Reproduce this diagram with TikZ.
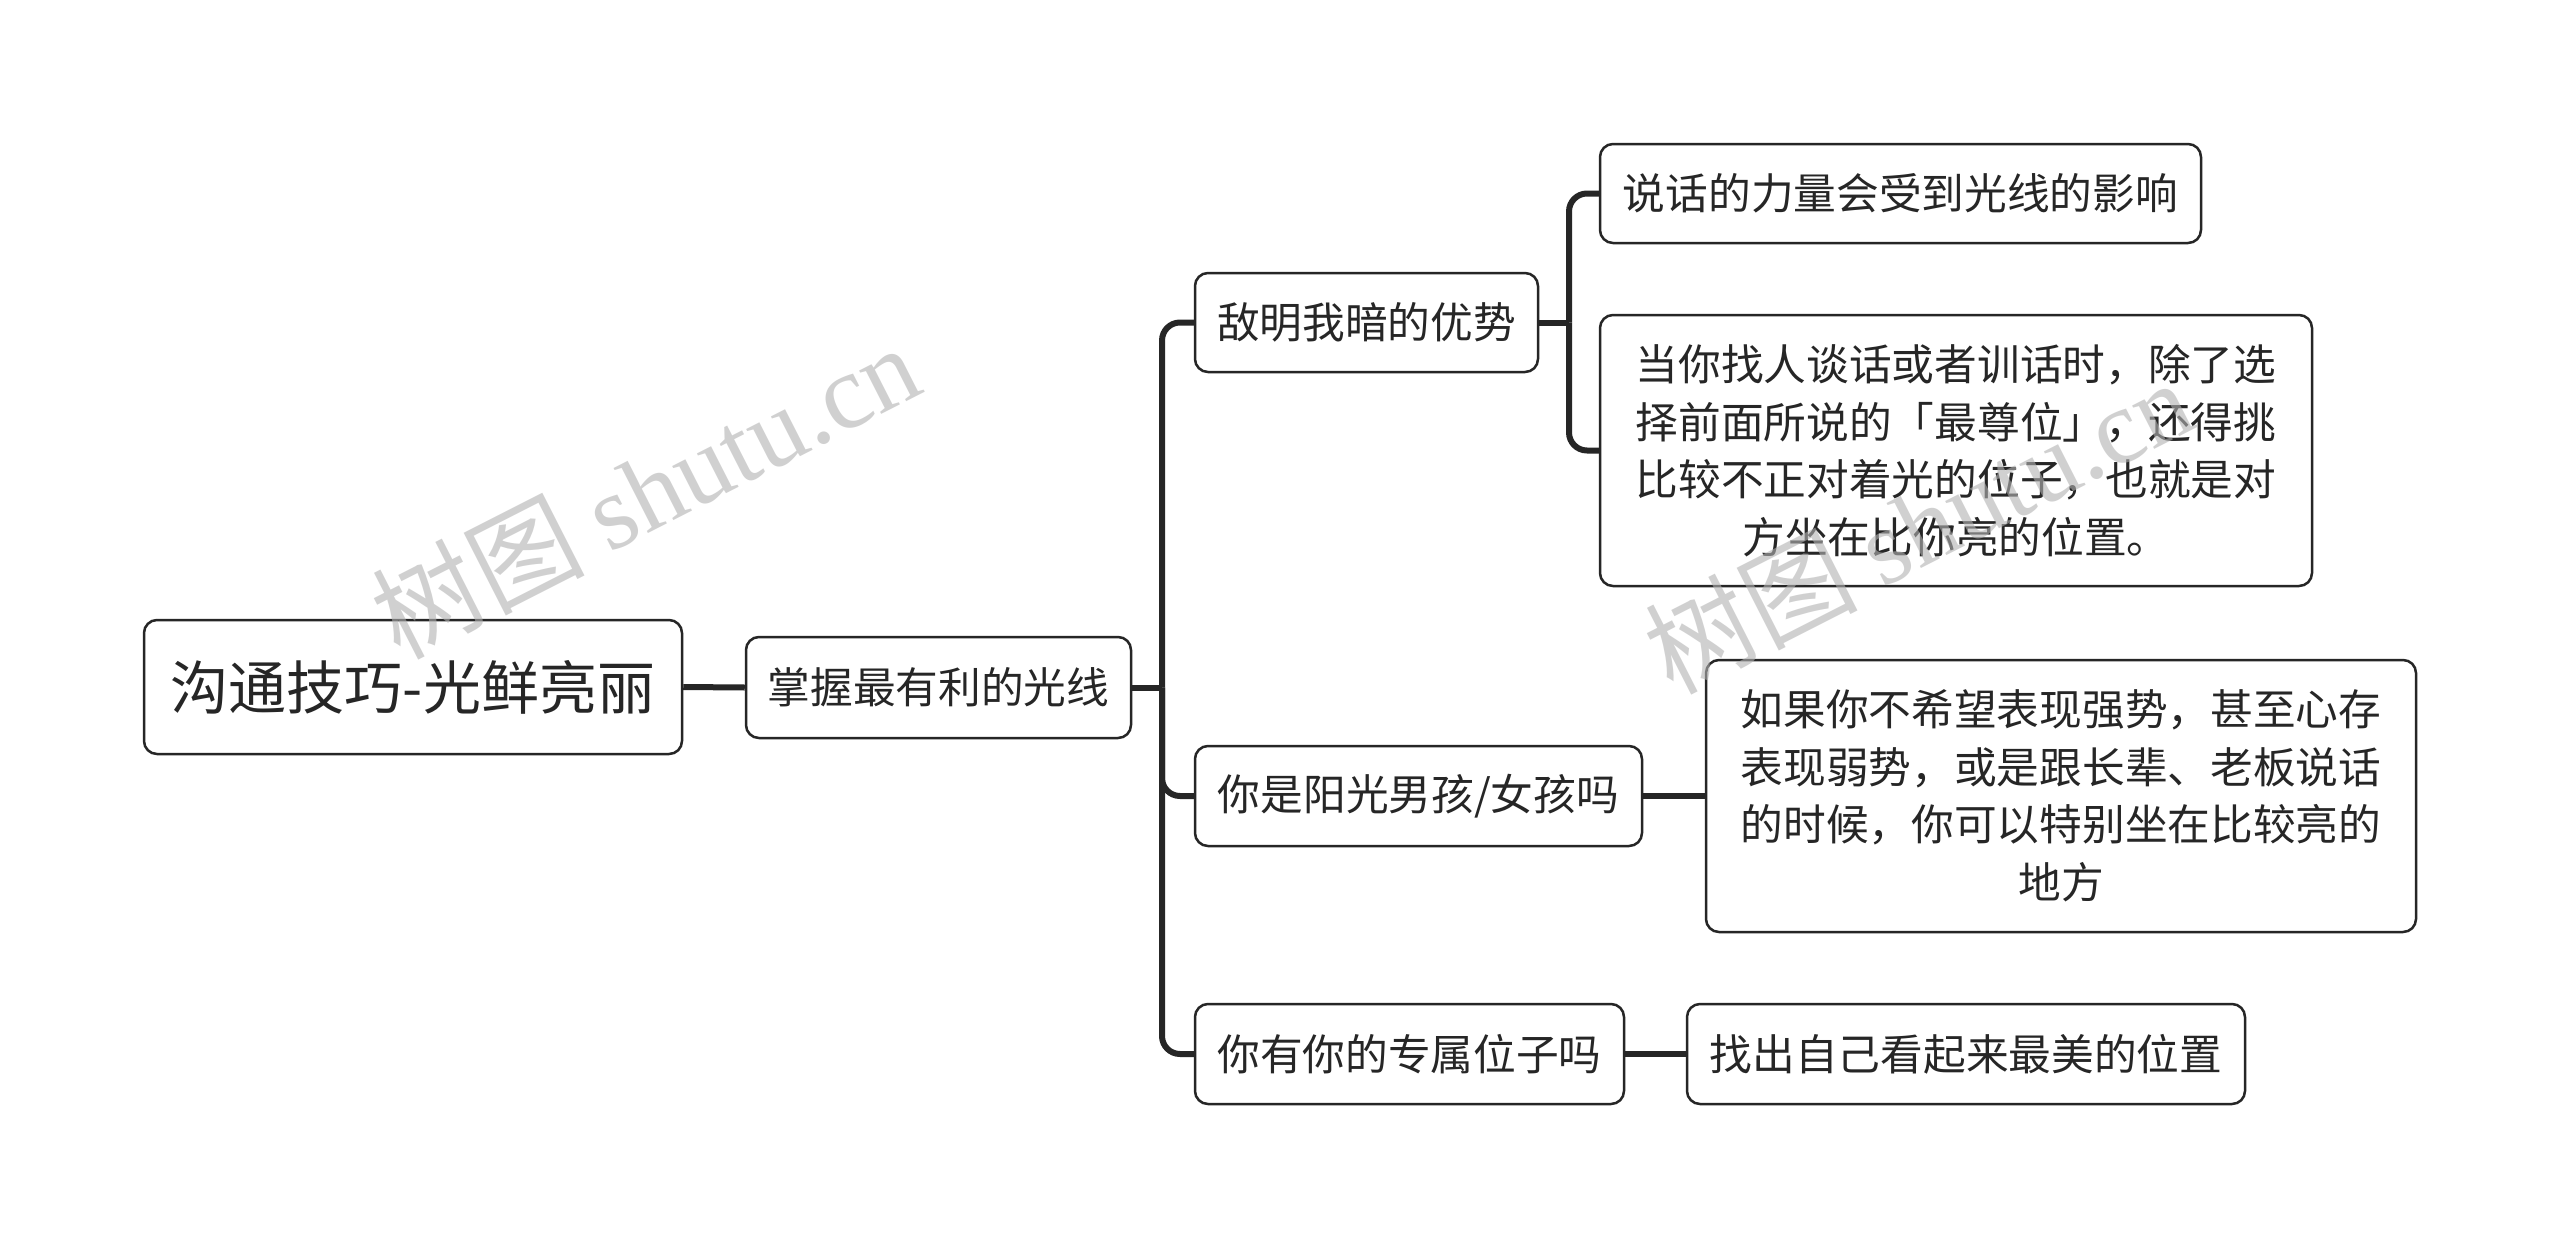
\documentclass[tikz,border=0pt]{standalone}
\usepackage{fontspec}
\setmainfont{Noto Sans CJK SC}
\newfontfamily\wmserif{Liberation Serif}
\begin{document}
\begin{tikzpicture}[x=1pt,y=-1pt,
  box/.style={draw=black!85, line width=2.5pt, rounded corners=13pt, fill=white, text=black!85, inner sep=0pt, align=center, font=\fontsize{42.7}{57.5}\selectfont},
  conn/.style={draw=black!85, line width=6pt},
  elbow/.style={conn, rounded corners=18pt},
  wm/.style={text=black!30, opacity=0.6, rotate=27, font=\fontsize{106}{106}\selectfont}]
\useasboundingbox (0,0) rectangle (2560,1247);
\fill[white] (0,0) rectangle (2560,1247);

\node[box, minimum width=538pt, minimum height=134pt, font=\fontsize{58}{70}\selectfont] (root) at (413,687) {沟通技巧-光鲜亮丽};
\node[box, minimum width=385pt, minimum height=101pt] (L1) at (938.5,687.5) {掌握最有利的光线};
\node[box, minimum width=343pt, minimum height=99pt] (c1) at (1366.5,322.5) {敌明我暗的优势};
\node[box, minimum width=447pt, minimum height=100pt] (c2) at (1418.5,796) {你是阳光男孩/女孩吗};
\node[box, minimum width=429pt, minimum height=100pt] (c3) at (1409.5,1054) {你有你的专属位子吗};
\node[box, minimum width=601pt, minimum height=99pt] (g1) at (1900.5,193.5) {说话的力量会受到光线的影响};
\node[box, minimum width=712pt, minimum height=271pt] (g2) at (1956,450.5) {当你找人谈话或者训话时，除了选\\择前面所说的「最尊位」，还得挑\\比较不正对着光的位子，也就是对\\方坐在比你亮的位置。};
\node[box, minimum width=710pt, minimum height=272pt] (g3) at (2061,796) {如果你不希望表现强势，甚至心存\\表现弱势，或是跟长辈、老板说话\\的时候，你可以特别坐在比较亮的\\地方};
\node[box, minimum width=558pt, minimum height=100pt] (g4) at (1966,1054) {找出自己看起来最美的位置};

\coordinate (t) at (1162,687.5);
\coordinate (t2) at (1569,322.5);
\draw[conn] (root.east) -- (L1.west);
\draw[conn] (L1.east) -- (t);
\draw[elbow] (t) |- (c1.west);
\draw[elbow] (t) |- (c2.west);
\draw[elbow] (t) |- (c3.west);
\draw[conn] (c1.east) -- (t2);
\draw[elbow] (t2) |- (g1.west);
\draw[elbow] (t2) |- (g2.west);
\draw[conn] (c2.east) -- (g3.west);
\draw[conn] (c3.east) -- (g4.west);

\node[wm] (wm1) at (645,490) {树图 {\wmserif shutu.cn}};
\node[wm] (wm2) at (1918,525) {树图 {\wmserif shutu.cn}};
\end{tikzpicture}
\end{document}
